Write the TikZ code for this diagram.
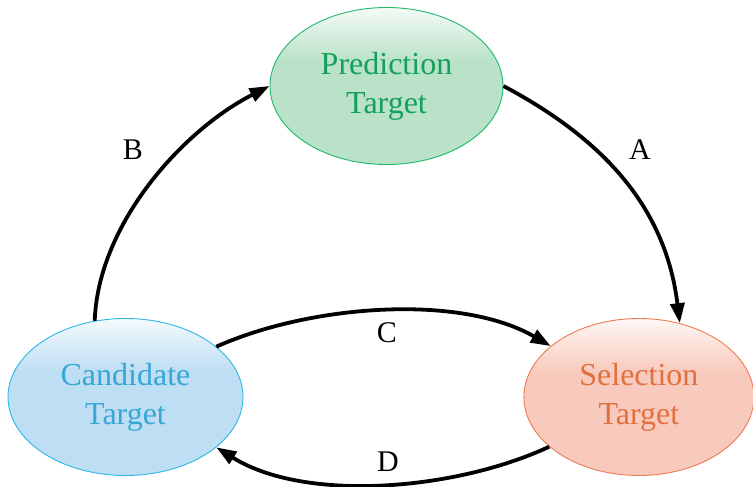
\documentclass[tikz,border=0pt]{standalone}
\usepackage{fontspec}
\setmainfont{Liberation Serif}
\usetikzlibrary{arrows.meta,positioning,shapes.geometric}
\definecolor{predfill}{HTML}{B9E2C8}
\definecolor{preddraw}{HTML}{1DB96B}
\definecolor{predtext}{HTML}{15A05A}
\definecolor{candfill}{HTML}{BDDEF3}
\definecolor{canddraw}{HTML}{2DB6E8}
\definecolor{candtext}{HTML}{38A6D6}
\definecolor{selfill}{HTML}{F8CABD}
\definecolor{seldraw}{HTML}{F07A4F}
\definecolor{seltext}{HTML}{E0703E}
\pgfdeclareverticalshading{predshade}{100bp}{color(0bp)=(predfill); color(58bp)=(predfill); color(75bp)=(white!85!predfill); color(100bp)=(white!85!predfill)}
\pgfdeclareverticalshading{candshade}{100bp}{color(0bp)=(candfill); color(58bp)=(candfill); color(75bp)=(white!85!candfill); color(100bp)=(white!85!candfill)}
\pgfdeclareverticalshading{selshade}{100bp}{color(0bp)=(selfill); color(58bp)=(selfill); color(75bp)=(white!85!selfill); color(100bp)=(white!85!selfill)}
\tikzset{
  >={Triangle[length=20pt,width=14pt]},
  target/.style={ellipse,line width=0.9pt,minimum width=233pt,minimum height=157pt,inner sep=0pt,align=center,
    font=\rmfamily\fontsize{32}{39}\selectfont},
  predbox/.style={target,draw=preddraw,shading=predshade,text=predtext},
  candbox/.style={target,draw=canddraw,shading=candshade,text=candtext,minimum width=235pt},
  selbox/.style={target,draw=seldraw,shading=selshade,text=seltext,minimum width=230pt},
  arrow/.style={->,line width=3.8pt,draw=black},
  label/.style={font=\rmfamily\fontsize{30}{30}\selectfont,inner sep=1pt},
}

\begin{document}
\begin{tikzpicture}[x=1pt,y=1pt]
\useasboundingbox (0,0) rectangle (753,487);

\node[predbox] (pred) at (386.5,401) {Prediction\\Target};
\node[candbox] (cand) at (125.5,90) {Candidate\\Target};
\node[selbox,right=280pt of cand] (sel) {Selection\\Target};

% cycle
\draw[arrow] (pred.east) to[out=-28,in=97] (sel.61);
\draw[arrow] (cand.112) to[out=88,in=207,looseness=0.85] (pred.west);
\draw[arrow] (cand.29) to[out=24,in=150,looseness=0.8] (sel.150);
\draw[arrow] (sel.209) to[out=205,in=-32,looseness=0.8] (cand.-29);

\node[label] (lblA) at (640,337) {A};
\node[label] (lblB) at (133,337) {B};
\node[label] (lblC) at (387,154) {C};
\node[label] (lblD) at (388,25) {D};

\end{tikzpicture}
\end{document}
